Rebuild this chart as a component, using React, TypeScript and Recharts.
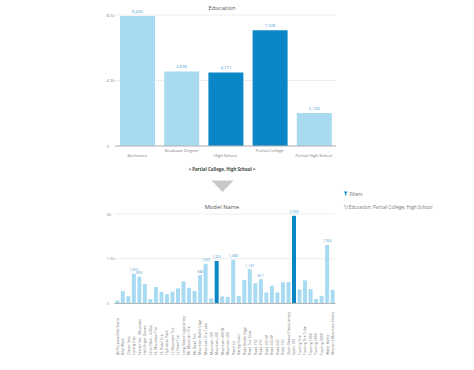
import { BarChart, Bar, XAxis, YAxis, CartesianGrid, Cell, LabelList } from 'recharts'

// Top chart: customers by education
const educationLevels = ['Bachelors', 'Graduate Degree', 'High School', 'Partial College', 'Partial High School']
const educationCounts = [8430, 4836, 4771, 7508, 2136]
const selectedEducation = ['Partial College', 'High School']
const educationTicks = [0, 4250, 8500]

// Bottom chart: counts by model name
const modelNames = [
  'All-Purpose Bike Stand', 'Bike Wash', 'Classic Vest', 'Cycling Cap', 'Fender Set - Mountain',
  'Half-Finger Gloves', 'Hitch Rack - 4-Bike', 'HL Mountain Tire', 'HL Road Tire', 'Hydration Pack',
  'LL Mountain Tire', 'LL Road Tire', 'Long-Sleeve Logo Jersey', 'ML Mountain Tire', 'ML Road Tire',
  'Mountain Bottle Cage', 'Mountain Tire Tube', 'Mountain-100', 'Mountain-200', 'Mountain-400-W',
  'Mountain-500', 'Patch kit', 'Racing Socks', 'Road Bottle Cage', 'Road Tire Tube',
  'Road-150', 'Road-250', 'Road-350-W', 'Road-550-W', 'Road-650',
  'Road-750', 'Short-Sleeve Classic Jersey', 'Sport-100', 'Touring Tire', 'Touring Tire Tube',
  'Touring-1000', 'Touring-2000', 'Touring-3000', 'Water Bottle', "Women's Mountain Shorts",
]
const modelCounts = [
  101, 416, 247, 1000, 893,
  652, 145, 551, 392, 314,
  395, 507, 743, 527, 418,
  948, 1330, 169, 1425, 236,
  223, 1468, 247, 787, 1147,
  676, 811, 372, 595, 370,
  709, 720, 2939, 473, 777,
  483, 155, 257, 1964, 459,
]
const highlightedModels = ['Mountain-200', 'Sport-100']
const labelledModels = [
  'Cycling Cap', 'Fender Set - Mountain', 'Mountain Bottle Cage', 'Mountain Tire Tube', 'Mountain-200',
  'Patch kit', 'Road Tire Tube', 'Road-250', 'Sport-100', 'Water Bottle',
]
const modelTicks = [0, 1500, 3000]

const LIGHT = '#a8dbf1'
const DARK = '#0b87c8'
const FONT = "'Open Sans', sans-serif"

const fmtK = (v: number) => (v === 0 ? '0' : `${(v / 1000).toFixed(1).replace(/\.0$/, '')}k`)
const fmtNum = (v: unknown) => Number(v).toLocaleString('en-US')

const educationData = educationLevels.map((name, i) => ({ name, value: educationCounts[i] }))
const modelData = modelNames.map((name, i) => ({
  name,
  value: modelCounts[i],
  label: labelledModels.includes(name) ? modelCounts[i] : null,
}))

function YTick({ y, payload }: any) {
  return (
    <text x={106.5} y={y} dominantBaseline="central" fontSize={4.2} fill="#8a8a8a" fontFamily={FONT}>
      {fmtK(payload.value)}
    </text>
  )
}

// labels alternate between two rows so the long ones do not collide
function StaggeredTick({ x, y, payload, index }: any) {
  const dy = index % 2 === 1 ? 4.5 : 9.8
  return (
    <text x={x} y={y + dy} textAnchor="middle" dominantBaseline="central" fontSize={4.2} fill="#7a7a7a" fontFamily={FONT}>
      {payload.value}
    </text>
  )
}

function ModelTick({ x, y, payload }: any) {
  return (
    <text
      transform={`translate(${x + 1.3}, ${y + 51.5}) rotate(-90)`}
      textAnchor="start"
      fontSize={3.5}
      fill="#777"
      fontFamily={FONT}
    >
      {payload.value}
    </text>
  )
}

export default function App() {
  return (
    <div
      style={{
        position: 'absolute',
        left: 0,
        top: 0,
        width: 474,
        height: 370,
        background: '#fff',
        overflow: 'hidden',
        fontFamily: FONT,
      }}
    >
      <div style={{ position: 'absolute', left: 0, top: 0 }}>
        <BarChart
          width={474}
          height={175}
          data={educationData}
          margin={{ top: 15, right: 138, bottom: 0, left: 0 }}
        >
          <CartesianGrid stroke="#eeeeee" vertical={false} />
          <XAxis
            dataKey="name"
            height={29}
            axisLine={{ stroke: '#b5b5b5' }}
            tickLine={false}
            tickSize={0}
            tickMargin={0}
            interval={0}
            tick={<StaggeredTick />}
          />
          <YAxis
            width={115}
            domain={[0, 8500]}
            ticks={educationTicks}
            axisLine={false}
            tickLine={false}
            tick={<YTick />}
          />
          <Bar dataKey="value" barSize={35} isAnimationActive={false}>
            {educationData.map((d) => (
              <Cell key={d.name} fill={selectedEducation.includes(d.name) ? DARK : LIGHT} />
            ))}
            <LabelList
              dataKey="value"
              position="top"
              offset={3}
              fontSize={4.3}
              fill="#4a9ed2"
              fontFamily={FONT}
              formatter={fmtNum}
            />
          </Bar>
        </BarChart>
      </div>

      <div style={{ position: 'absolute', left: 0, top: 200 }}>
        <BarChart
          width={474}
          height={170}
          data={modelData}
          barCategoryGap="12%"
          margin={{ top: 14, right: 138.5, bottom: 0, left: 0 }}
        >
          <CartesianGrid stroke="#eeeeee" vertical={false} />
          <XAxis
            dataKey="name"
            height={66.5}
            axisLine={{ stroke: '#b5b5b5' }}
            tickLine={false}
            tickSize={0}
            tickMargin={0}
            interval={0}
            tick={<ModelTick />}
          />
          <YAxis
            width={114.6}
            domain={[0, 3000]}
            ticks={modelTicks}
            axisLine={false}
            tickLine={false}
            tick={<YTick />}
          />
          <Bar dataKey="value" isAnimationActive={false}>
            {modelData.map((d) => (
              <Cell key={d.name} fill={highlightedModels.includes(d.name) ? DARK : LIGHT} />
            ))}
            <LabelList
              dataKey="label"
              position="top"
              offset={2.5}
              fontSize={3.5}
              fill="#4a9ed2"
              fontFamily={FONT}
              formatter={fmtNum}
            />
          </Bar>
        </BarChart>
      </div>

      <svg width={474} height={370} style={{ position: 'absolute', left: 0, top: 0, pointerEvents: 'none' }}>
        <text x={222} y={8} textAnchor="middle" dominantBaseline="central" fontSize={5.8} fill="#555" fontFamily={FONT}>
          Education
        </text>
        <text
          x={222}
          y={168.5}
          textAnchor="middle"
          dominantBaseline="central"
          fontSize={4.4}
          fontWeight="bold"
          fill="#444"
          fontFamily={FONT}
        >
          {'< Partial College, High School >'}
        </text>
        <polygon points="211.5,180.5 233.5,180.5 222.5,192" fill="#c9c9c9" />
        <text x={222} y={207} textAnchor="middle" dominantBaseline="central" fontSize={5.8} fill="#555" fontFamily={FONT}>
          Model Name
        </text>
        <polygon points="343.8,191.4 347.6,191.4 346.3,193.4 346.3,195.4 345.1,195.4 345.1,193.4" fill="#1a8fd0" />
        <text x={349.5} y={193.5} dominantBaseline="central" fontSize={4.6} fill="#666" fontFamily={FONT}>
          Filters
        </text>
        <text x={343.5} y={207} dominantBaseline="central" fontSize={4.7} fill="#777" fontFamily={FONT}>
          1) Education: Partial College, High School
        </text>
      </svg>
    </div>
  )
}
